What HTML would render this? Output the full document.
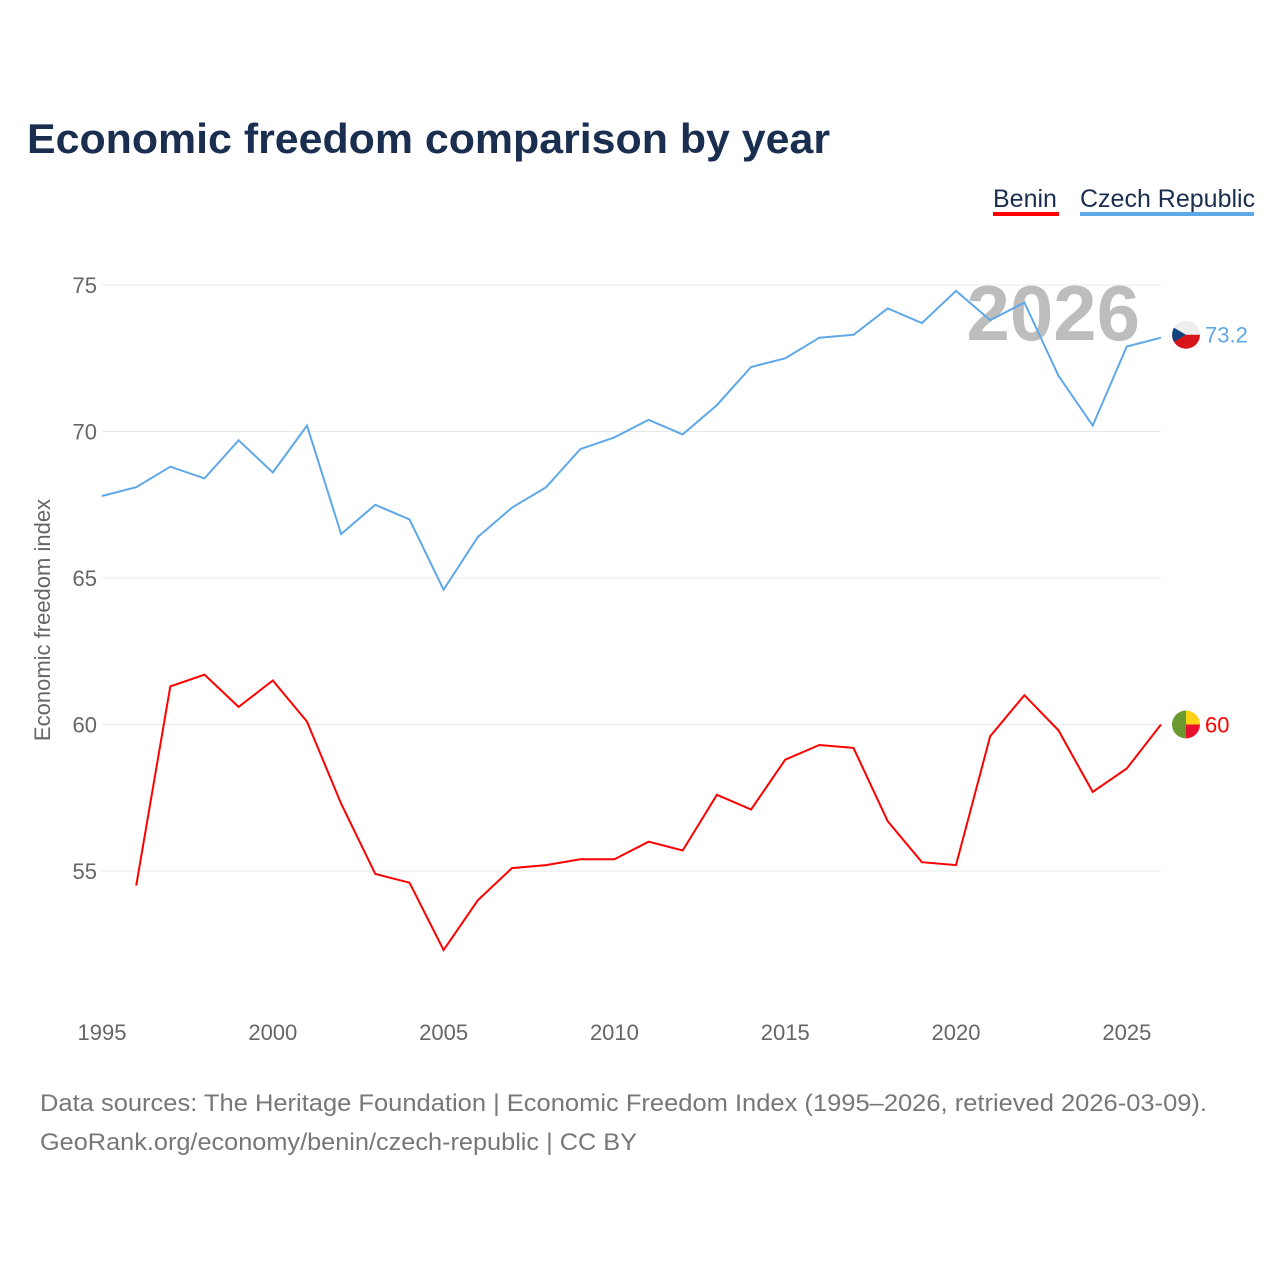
<!DOCTYPE html>
<html><head><meta charset="utf-8"><style>
body{margin:0;background:#fff;font-family:"Liberation Sans",sans-serif}
#wrap{position:relative;width:1280px;height:1280px;overflow:hidden}
</style></head><body>
<div id="wrap">
<svg id="chart" width="1280" height="1280"></svg>
</div>
<script>
const years=[1995,1996,1997,1998,1999,2000,2001,2002,2003,2004,2005,2006,2007,2008,2009,2010,2011,2012,2013,2014,2015,2016,2017,2018,2019,2020,2021,2022,2023,2024,2025,2026];
const czech=[67.8,68.1,68.8,68.4,69.7,68.6,70.2,66.5,67.5,67.0,64.6,66.4,67.4,68.1,69.4,69.8,70.4,69.9,70.9,72.2,72.5,73.2,73.3,74.2,73.7,74.8,73.8,74.4,71.9,70.2,72.9,73.2];
const benin=[null,54.5,61.3,61.7,60.6,61.5,60.1,57.3,54.9,54.6,52.3,54.0,55.1,55.2,55.4,55.4,56.0,55.7,57.6,57.1,58.8,59.3,59.2,56.7,55.3,55.2,59.6,61.0,59.8,57.7,58.5,60.0];
const yTicks=[55,60,65,70,75];
const xTicks=[1995,2000,2005,2010,2015,2020,2025];
const NS="http://www.w3.org/2000/svg";
const svg=document.getElementById('chart');
const X=y=>102+(y-1995)*(1161-102)/31;
const Y=v=>285+(75-v)*(871-285)/20;
function el(t,a,txt){const e=document.createElementNS(NS,t);for(const k in a)e.setAttribute(k,a[k]);if(txt!=null)e.textContent=txt;svg.appendChild(e);return e;}
let e;
e=el('text',{x:27,y:153,'font-size':42,'font-weight':'bold',fill:'#1a2e4f',textLength:803,lengthAdjust:'spacingAndGlyphs'},'Economic freedom comparison by year');


e=el('text',{x:993,y:207,'font-size':25,fill:'#1a2e4f'},'Benin');


e=el('rect',{x:993,y:212,width:66,height:4,fill:'#ff0000'});


e=el('text',{x:1080,y:207,'font-size':25,fill:'#1a2e4f'},'Czech Republic');


e=el('rect',{x:1080,y:212,width:174,height:4,fill:'#5fa8e8'});


yTicks.forEach(v=>{
 e=el('line',{x1:102,x2:1161,y1:Y(v),y2:Y(v),stroke:'#e8e8e8','stroke-width':1});
 
 
 e=el('text',{x:97,y:Y(v)+8,'font-size':22,fill:'#666','text-anchor':'end'},v);
 
 
});
xTicks.forEach(v=>{
 e=el('text',{x:X(v),y:1040,'font-size':22,fill:'#666','text-anchor':'middle'},v);
 
 
});
e=el('text',{x:0,y:0,'font-size':22,fill:'#666','text-anchor':'middle',transform:'translate(50,620) rotate(-90)'},'Economic freedom index');


e=el('text',{x:1140,y:340,'font-size':78,'font-weight':'bold',fill:'#bdbdbd','text-anchor':'end'},'2026');


function line(data,color,name){
 let d='';data.forEach((v,i)=>{if(v==null)return;d+=(d?'L':'M')+X(years[i]).toFixed(1)+','+Y(v).toFixed(1);});
 const p=el('path',{d:d,fill:'none',stroke:color,'stroke-width':2});
 
 
}
line(czech,'#5fa8e8','czech-line');
line(benin,'#ff0000','benin-line');
const cx=1186, cyC=Y(czech[czech.length-1])-3, cyB=Y(benin[benin.length-1]);
e=el('circle',{cx:cx,cy:cyC,r:14,fill:'#eeeeee'});


e=el('path',{d:`M${cx-14},${cyC} A14,14 0 0,0 ${cx+14},${cyC} Z`,fill:'#d7141a'});


e=el('path',{d:`M${cx-12},${cyC-7} L${cx},${cyC} L${cx-12},${cyC+7} A14,14 0 0,1 ${cx-12},${cyC-7} Z`,fill:'#11457e'});


e=el('text',{x:1205,y:cyC+8,'font-size':22,fill:'#5fa8e8'},czech[czech.length-1]);


e=el('path',{d:`M${cx},${cyB-14} A14,14 0 0,0 ${cx},${cyB+14} Z`,fill:'#6a9a2f'});


e=el('path',{d:`M${cx},${cyB-14} A14,14 0 0,1 ${cx+14},${cyB} L${cx},${cyB} Z`,fill:'#fcd116'});


e=el('path',{d:`M${cx},${cyB} L${cx+14},${cyB} A14,14 0 0,1 ${cx},${cyB+14} Z`,fill:'#e8112d'});


e=el('text',{x:1205,y:cyB+8,'font-size':22,fill:'#ff0000'},benin[benin.length-1]);


e=el('text',{x:40,y:1111,'font-size':24,fill:'#777',textLength:1167,lengthAdjust:'spacingAndGlyphs'},'Data sources: The Heritage Foundation | Economic Freedom Index (1995–2026, retrieved 2026-03-09).');


e=el('text',{x:40,y:1150,'font-size':24,fill:'#777',textLength:597,lengthAdjust:'spacingAndGlyphs'},'GeoRank.org/economy/benin/czech-republic | CC BY');


</script>
</body></html>
